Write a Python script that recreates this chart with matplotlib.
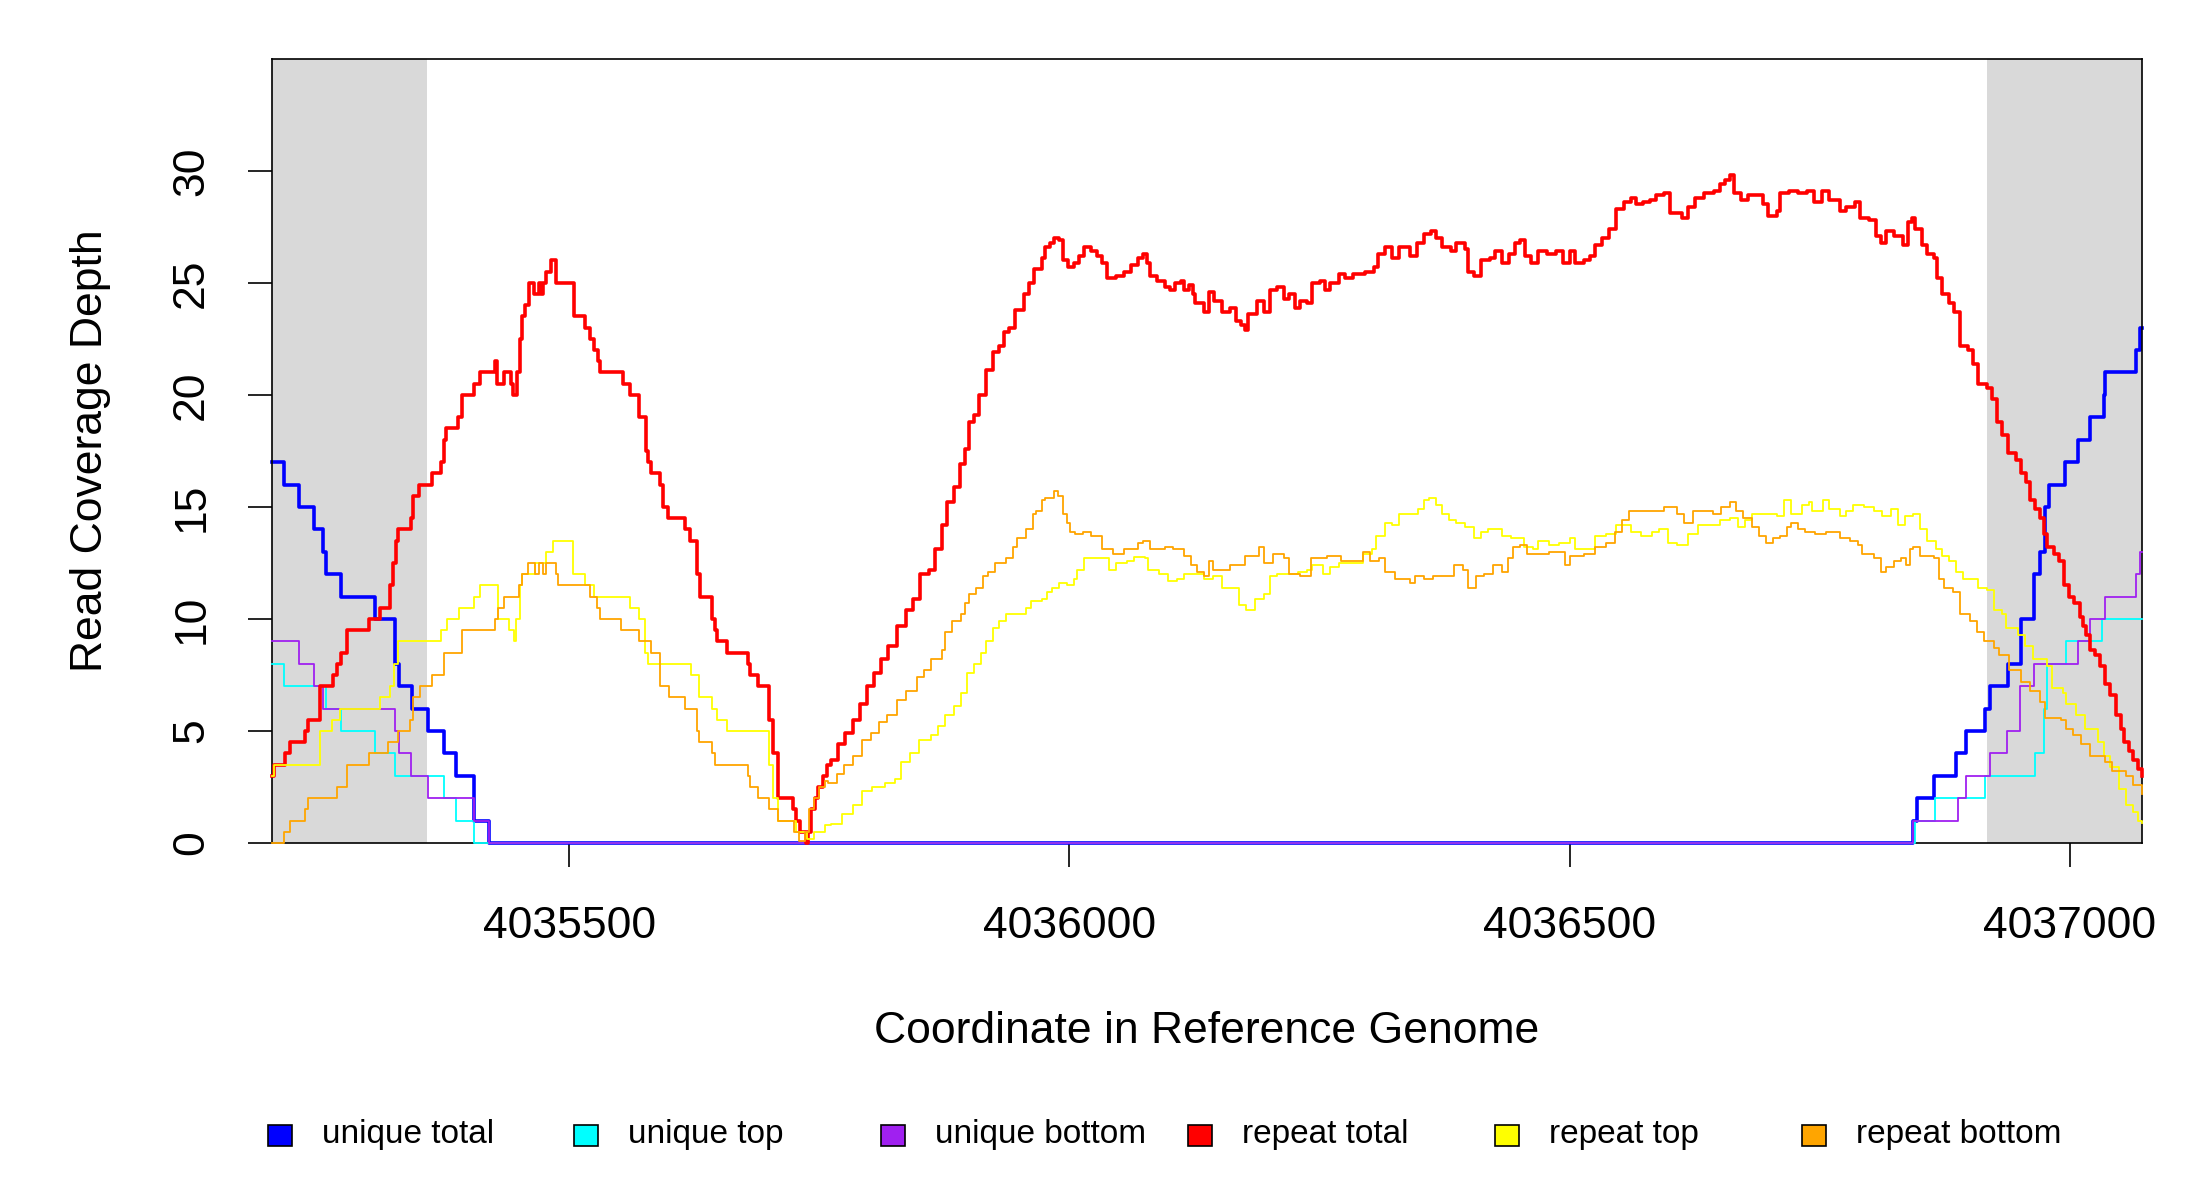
import numpy as np
import matplotlib
matplotlib.use("Agg")
import matplotlib.pyplot as plt
from matplotlib.patches import Rectangle

plt.rcParams['font.family'] = ['Liberation Sans', 'DejaVu Sans']

BASE = 4035000
x_start, x_end = 203, 2072
masked_left = (203, 358)
masked_right = (1917, 2072)

uniq_total_pos = [203, 215, 230, 245, 254, 257, 272, 306, 326, 330, 343, 359, 375, 387, 405, 420,
                  1843, 1847, 1864, 1886, 1896, 1915, 1920, 1938, 1951, 1964, 1970, 1975, 1979,
                  1995, 2008, 2020, 2034, 2035, 2066, 2070, 2072]
uniq_total_depth = [17, 16, 15, 14, 13, 12, 11, 10, 8, 7, 6, 5, 4, 3, 1, 0,
                    1, 2, 3, 4, 5, 6, 7, 8, 10, 12, 13, 15, 16,
                    17, 18, 19, 20, 21, 22, 23, 23]

uniq_top_pos = [203, 215, 257, 272, 306, 326, 375, 387, 405,
                1845, 1865, 1915, 1965, 1974, 1977, 1996, 2032, 2072]
uniq_top_depth = [8, 7, 6, 5, 4, 3, 2, 1, 0,
                  1, 2, 3, 4, 6, 8, 9, 10, 10]

uniq_bot_pos = [203, 230, 245, 254, 326, 330, 342, 359, 405, 420,
                1843, 1888, 1896, 1920, 1937, 1950, 1964, 2008, 2020, 2035, 2066, 2070, 2072]
uniq_bot_depth = [9, 8, 7, 6, 5, 4, 3, 2, 1, 0,
                  1, 2, 3, 4, 5, 7, 8, 9, 10, 11, 12, 13, 13]

rep_total_pos = [
    203, 205, 216, 221, 236, 239, 251, 264, 268, 272, 278, 300, 311, 321, 324, 327, 329, 342, 344, 350,
    363, 372, 375, 377, 389, 393, 405, 411, 426, 428, 435, 442, 444, 448, 451, 453, 456, 460, 465, 470,
    472, 474, 477, 482, 487, 505, 516, 521, 525, 529, 531, 554, 561, 570, 577, 579, 582, 591, 594, 599,
    616, 621, 628, 631, 643, 646, 648, 658, 679, 681, 689, 700, 704, 709, 724, 727, 731, 737, 739, 742,
    746, 749, 754, 758,
    762, 769, 776, 784, 791, 798, 805, 812, 819, 828, 837, 844, 851, 860, 866, 873, 878, 885, 891, 896,
    900, 905, 910, 917, 924, 930, 935, 940, 946, 955, 960, 965, 973, 976, 981, 985, 990, 994, 999,
    1005, 1010, 1015, 1022, 1028, 1033, 1038, 1047, 1055, 1062, 1069, 1074, 1078, 1081, 1088, 1096, 1101,
    1106, 1112, 1115, 1120, 1124, 1126, 1135, 1140, 1145, 1153, 1161, 1167, 1172, 1176, 1179, 1188, 1195,
    1201, 1208, 1215, 1220, 1226, 1231, 1238, 1243, 1251, 1256, 1261, 1270, 1276, 1284, 1295, 1304,
    1308, 1315, 1322, 1329, 1340, 1347, 1354, 1361, 1366, 1372, 1381, 1386, 1395, 1398, 1404, 1411, 1420,
    1425, 1432, 1439, 1445, 1450, 1455, 1461, 1468, 1477, 1486, 1493, 1500, 1505, 1514, 1520, 1525, 1532,
    1539, 1546, 1554, 1561, 1566, 1573, 1580, 1586, 1594, 1600, 1612, 1618, 1625, 1634, 1644, 1650, 1655,
    1660, 1664, 1671, 1678, 1685, 1693, 1698, 1707, 1710, 1719,
    1728, 1737, 1744, 1752, 1759, 1770, 1776, 1785, 1790, 1799, 1806, 1811, 1816, 1824, 1833, 1838, 1842,
    1845, 1852, 1857, 1864, 1867, 1872, 1879, 1884, 1890, 1898, 1903, 1908, 1917, 1922, 1927, 1932, 1938,
    1946, 1951, 1956, 1960, 1965, 1970, 1974, 1977, 1984, 1989, 1994, 1999, 2004, 2010, 2013, 2016, 2020,
    2025, 2030, 2035, 2040, 2046, 2051, 2054, 2059, 2063, 2068, 2072]
rep_total_depth = [
    3.0, 3.5, 4.0, 4.5, 5.0, 5.5, 7.0, 7.5, 8.0, 8.5, 9.5, 10, 10.5, 11.5, 12.5, 13.5, 14, 14.5, 15.5, 16,
    16.5, 17, 18, 18.5, 19, 20, 20.5, 21, 21.5, 20.5, 21, 20.5, 20, 21, 22.5, 23.5, 24, 25, 24.5, 25,
    24.5, 25, 25.5, 26, 25, 23.5, 23, 22.5, 22, 21.5, 21, 20.5, 20, 19, 17.5, 17, 16.5, 16, 15, 14.5,
    14, 13.5, 12, 11, 10, 9.5, 9, 8.5, 8, 7.5, 7, 5.5, 4, 2, 1.5, 1, 0.5, 0, 0.5, 1.5,
    2, 2.5, 3, 3.5,
    3.7, 4.4, 4.9, 5.5, 6.2, 7.0, 7.6, 8.2, 8.8, 9.7, 10.4, 10.9, 12.0, 12.2, 13.1, 14.2, 15.2, 15.9, 16.9, 17.6,
    18.8, 19.1, 20.0, 21.1, 21.9, 22.2, 22.8, 23.0, 23.8, 24.5, 25.0, 25.6, 26.1, 26.6, 26.8, 27.0, 26.9, 26.0, 25.7,
    25.9, 26.2, 26.6, 26.4, 26.2, 25.9, 25.2, 25.3, 25.5, 25.8, 26.1, 26.3, 25.9, 25.3, 25.1, 24.8, 24.7,
    25.0, 25.1, 24.7, 24.9, 24.5, 24.1, 23.7, 24.6, 24.2, 23.7, 23.9, 23.3, 23.1, 22.9, 23.6, 24.2, 23.7,
    24.7, 24.8, 24.3, 24.5, 23.9, 24.2, 24.1, 25.0, 25.1, 24.7, 25.0, 25.4, 25.2, 25.4, 25.5, 25.7,
    26.3, 26.6, 26.1, 26.6, 26.2, 26.8, 27.2, 27.3, 27.0, 26.6, 26.4, 26.8, 26.5, 25.5, 25.3, 26.0, 26.1,
    26.4, 25.9, 26.3, 26.8, 26.9, 26.2, 25.9, 26.4, 26.3, 26.4, 25.9, 26.4, 25.9, 26.0, 26.2, 26.7, 27.0,
    27.4, 28.3, 28.6, 28.8, 28.5, 28.6, 28.7, 28.9, 29.0, 28.1, 27.9, 28.4, 28.8, 29.0, 29.1, 29.4, 29.6,
    29.8, 29.0, 28.7, 28.9, 28.9, 28.5, 28.0, 28.2, 29.0, 29.1,
    29.0, 29.1, 28.6, 29.1, 28.7, 28.2, 28.4, 28.6, 27.9, 27.8, 27.1, 26.8, 27.3, 27.1, 26.7, 27.7, 27.9,
    27.4, 26.7, 26.3, 26.1, 25.2, 24.5, 24.1, 23.7, 22.2, 22.0, 21.4, 20.5, 20.3, 19.8, 18.8, 18.2, 17.4,
    17.1, 16.5, 16.1, 15.3, 14.9, 14.5, 13.8, 13.2, 12.9, 12.6, 11.5, 11.0, 10.7, 10.1, 9.7, 9.3, 8.6,
    8.4, 7.9, 7.1, 6.6, 5.7, 5.1, 4.5, 4.1, 3.7, 3.3, 3.0]

rep_top_pos = [
    203, 205, 251, 263, 271, 311, 321, 325, 329, 372, 378, 390, 405, 411, 429, 440, 445, 447, 451, 453,
    466, 477, 484, 504, 516, 525, 561, 570, 576, 579, 622, 630, 643, 648, 658, 700, 704, 709, 727, 738,
    745, 756,
    762, 773, 784, 793, 803, 816, 826, 832, 841, 850, 862, 869, 876, 885, 892, 898, 905, 912, 917, 924,
    930, 937, 951, 957, 962, 973, 978, 983, 990, 998, 1005, 1008, 1015, 1026, 1037, 1040, 1047, 1058,
    1065, 1076, 1079, 1090, 1099, 1108, 1115, 1126, 1135, 1144, 1153, 1165, 1170, 1177, 1186, 1195,
    1201, 1208, 1218, 1229, 1238, 1243, 1254, 1261, 1270, 1283, 1293, 1302,
    1306, 1315, 1322, 1329, 1340, 1348, 1354, 1359, 1366, 1372, 1379, 1386, 1395, 1404, 1411, 1418,
    1427, 1432, 1441, 1450, 1454, 1463, 1468, 1479, 1489, 1500, 1505, 1514, 1525, 1536, 1546, 1553,
    1561, 1571, 1582, 1589, 1598, 1607, 1618, 1628, 1639, 1650, 1660, 1668, 1675, 1682, 1692, 1707,
    1714, 1721,
    1732, 1739, 1742, 1751, 1753, 1759, 1770, 1776, 1783, 1794, 1804, 1812, 1821, 1828, 1835, 1843,
    1850, 1857, 1866, 1872, 1879, 1886, 1893, 1908, 1917, 1924, 1932, 1936, 1948, 1955, 1963, 1977,
    1982, 1993, 1996, 2006, 2015, 2028, 2034, 2040, 2049, 2056, 2063, 2068, 2072]
rep_top_depth = [
    3.0, 3.5, 5.0, 5.5, 6.0, 6.5, 7.0, 8.0, 9.0, 9.5, 10.0, 10.5, 11.0, 11.5, 10.0, 9.5, 9.0, 10.0, 11.5, 12.0,
    12.5, 13.0, 13.5, 12.0, 11.5, 11.0, 10.5, 10.0, 8.5, 8.0, 7.5, 6.5, 6.0, 5.5, 5.0, 3.5, 2.0, 1.0, 0.5, 0.2,
    0.5, 0.8,
    0.85, 1.3, 1.7, 2.3, 2.5, 2.7, 2.85, 3.6, 4.0, 4.6, 4.8, 5.2, 5.7, 6.1, 6.7, 7.6, 8.0, 8.5, 9.0, 9.6,
    9.9, 10.2, 10.2, 10.5, 10.8, 10.9, 11.2, 11.4, 11.6, 11.5, 11.8, 12.2, 12.7, 12.7, 12.7, 12.2, 12.5, 12.6,
    12.75, 12.7, 12.2, 12.0, 11.7, 11.8, 12.0, 12.0, 11.8, 11.9, 11.4, 11.4, 10.6, 10.4, 10.9, 11.1,
    11.9, 12.0, 12.0, 12.1, 12.2, 12.4, 12.0, 12.3, 12.5, 12.5, 12.9, 13.1,
    13.7, 14.3, 14.2, 14.7, 14.7, 14.9, 15.3, 15.4, 15.1, 14.7, 14.4, 14.3, 14.1, 13.6, 13.9, 14.0,
    14.0, 13.7, 13.6, 13.6, 13.2, 13.1, 13.5, 13.3, 13.4, 13.6, 13.1, 13.1, 13.7, 13.8, 14.2, 14.2,
    13.9, 13.7, 13.9, 14.0, 13.4, 13.3, 13.8, 14.2, 14.2, 14.4, 14.5, 14.1, 14.4, 14.7, 14.7, 14.6,
    15.3, 14.7,
    15.1, 15.2, 14.8, 14.8, 15.3, 14.9, 14.6, 14.8, 15.1, 15.0, 14.8, 14.6, 14.9, 14.2, 14.6, 14.7,
    14.0, 13.5, 13.1, 12.8, 12.6, 12.1, 11.8, 11.4, 11.3, 10.4, 10.2, 9.6, 9.3, 8.8, 8.2, 7.9,
    6.9, 6.7, 6.2, 5.7, 5.1, 4.5, 3.9, 3.4, 2.4, 1.7, 1.4, 1.0, 0.9]

rep_bot_pos = [
    203, 215, 221, 236, 239, 268, 278, 300, 319, 329, 341, 344, 351, 363, 375, 393, 426, 429, 435, 450,
    453, 459, 466, 470, 474, 477, 487, 489, 521, 528, 531, 552, 570, 582, 591, 600, 616, 628, 630, 643,
    646, 679, 681, 689, 700, 709, 725, 730, 736, 740, 745, 750, 756,
    759, 768, 775, 784, 793, 802, 810, 818, 828, 837, 848, 855, 862, 873, 876, 883, 892, 896, 900, 907,
    914, 919, 926, 937, 944, 948, 957, 964, 967, 973, 976, 985, 989, 994, 998, 1001, 1006, 1014, 1022, 1033,
    1044, 1055, 1069, 1074, 1081, 1096, 1104, 1115, 1122, 1128, 1135, 1140, 1144, 1161, 1176, 1190, 1195,
    1204, 1215, 1220, 1231, 1242, 1258, 1272, 1283, 1293,
    1300, 1309, 1315, 1325, 1340, 1345, 1354, 1363, 1375, 1384, 1393, 1398, 1406, 1414, 1423, 1432, 1438,
    1443, 1450, 1457, 1468, 1479, 1489, 1495, 1500, 1514, 1525, 1536, 1545, 1552, 1559, 1571, 1582, 1594,
    1607, 1614, 1623, 1634, 1643, 1651, 1660, 1666, 1673, 1682, 1689, 1696, 1703, 1710, 1717,
    1721, 1728, 1735, 1745, 1756, 1770, 1780, 1788, 1792, 1804, 1811, 1816, 1824, 1831, 1836, 1840, 1843,
    1850, 1864, 1869, 1874, 1883, 1890, 1900, 1907, 1914, 1924, 1929, 1939, 1951, 1960, 1970, 1975, 1991,
    1996, 2003, 2011, 2020, 2035, 2042, 2056, 2063, 2072]
rep_bot_depth = [
    0, 0.5, 1, 1.5, 2, 2.5, 3.5, 4, 4.5, 5, 5.5, 6.5, 7, 7.5, 8.5, 9.5, 10, 10.5, 11, 11.5,
    12, 12.5, 12, 12.5, 12, 12.5, 12, 11.5, 11, 10.5, 10, 9.5, 9, 8.5, 7, 6.5, 6, 5, 4.5, 4,
    3.5, 3, 2.5, 2, 1.5, 1, 0.5, 0.1, 0.5, 1.5, 2, 2.5, 2.75,
    2.7, 3.1, 3.5, 3.9, 4.6, 4.9, 5.4, 5.7, 6.4, 6.8, 7.4, 7.7, 8.2, 8.6, 9.4, 9.9, 10.2, 10.7, 11.1, 11.4,
    11.9, 12.1, 12.5, 12.7, 13.2, 13.6, 14.0, 14.7, 14.8, 15.3, 15.4, 15.7, 15.5, 14.7, 14.3, 13.9, 13.8, 13.9, 13.7, 13.1,
    12.9, 13.1, 13.4, 13.5, 13.1, 13.2, 13.1, 12.8, 12.4, 12.1, 11.9, 12.6, 12.2, 12.4, 12.8, 13.2, 12.5,
    12.9, 12.7, 12.0, 11.9, 12.7, 12.8, 12.6, 12.6, 13.0,
    12.6, 12.7, 12.1, 11.8, 11.6, 11.9, 11.8, 11.9, 11.9, 12.4, 12.2, 11.4, 11.9, 12.0, 12.4, 12.1, 12.7,
    13.2, 13.3, 12.9, 12.9, 13.0, 13.0, 12.4, 12.8, 12.9, 13.2, 13.4, 13.9, 14.4, 14.8, 14.8, 14.8, 15.0,
    14.7, 14.3, 14.8, 14.8, 14.7, 15.0, 15.2, 14.8, 14.5, 14.1, 13.7, 13.4, 13.6, 13.7, 14.1,
    14.3, 14.0, 13.9, 13.8, 13.9, 13.6, 13.5, 13.3, 12.9, 12.7, 12.1, 12.3, 12.6, 12.7, 12.4, 13.1, 13.2,
    12.8, 12.7, 11.8, 11.4, 11.2, 10.2, 9.9, 9.4, 9.0, 8.7, 8.4, 7.7, 7.2, 6.8, 6.3, 5.6, 5.5,
    5.1, 4.8, 4.4, 3.9, 3.6, 3.2, 3.0, 2.6, 2.2]

series = [
    ("unique total", "blue", 2.6, uniq_total_pos, uniq_total_depth),
    ("unique top", "cyan", 1.3, uniq_top_pos, uniq_top_depth),
    ("unique bottom", "purple", 1.3, uniq_bot_pos, uniq_bot_depth),
    ("repeat total", "red", 2.6, rep_total_pos, rep_total_depth),
    ("repeat top", "yellow", 1.3, rep_top_pos, rep_top_depth),
    ("repeat bottom", "orange", 1.3, rep_bot_pos, rep_bot_depth),
]
colors = {"blue": "#0000FF", "cyan": "#00FFFF", "purple": "#A020F0",
          "red": "#FF0000", "yellow": "#FFFF00", "orange": "#FFA500"}

x_ticks = [4035500, 4036000, 4036500, 4037000]
y_ticks = [0, 5, 10, 15, 20, 25, 30]

fig = plt.figure(figsize=(22, 12), dpi=100)
ax = fig.add_axes([0.1236, 0.2975, 0.850, 0.6535])

ax.axvspan(BASE + masked_left[0], BASE + masked_left[1], color="#D9D9D9", lw=0, zorder=0)
ax.axvspan(BASE + masked_right[0], BASE + masked_right[1], color="#D9D9D9", lw=0, zorder=0)

for i, (name, col, lw, pos, depth) in enumerate(series):
    ax.step(BASE + np.array(pos), depth, where="post", color=colors[col], lw=lw,
            zorder=2 + i, clip_on=False)

ax.set_xlim(BASE + x_start, BASE + x_end)
ax.set_ylim(0, 35)

ax.set_xticks(x_ticks)
ax.set_xticklabels([str(t) for t in x_ticks])
ax.set_yticks(y_ticks)
ax.set_yticklabels([str(t) for t in y_ticks], rotation=90, va="center")
ax.tick_params(axis="both", length=17, width=1.2, labelsize=32, color="black")
ax.tick_params(axis="x", pad=28)
ax.tick_params(axis="y", pad=26)
for s in ax.spines.values():
    s.set_linewidth(1.2)
    s.set_color("black")

ax.set_xlabel("Coordinate in Reference Genome", fontsize=32)
ax.set_ylabel("Read Coverage Depth", fontsize=32)
ax.xaxis.set_label_coords(0.5, -0.24)
ax.xaxis.label.set_va("center")
ax.yaxis.set_label_coords(-0.097, 0.5)
ax.yaxis.label.set_va("center")

# horizontal legend under the plot, equal spacing like R's horiz legend
for i, (name, col, lw, pos, depth) in enumerate(series):
    cx = (279.5 + i * 306.8) / 2200
    cy = 1 - 1135 / 1200
    w, h = 24 / 2200, 21 / 1200
    fig.add_artist(Rectangle((cx - w / 2, cy - h / 2), w, h, transform=fig.transFigure,
                             facecolor=colors[col], edgecolor="black", lw=1.2))
    fig.text(cx + 42 / 2200, cy, name, fontsize=24, va="center", ha="left")

fig.savefig("out.png", dpi=100)
